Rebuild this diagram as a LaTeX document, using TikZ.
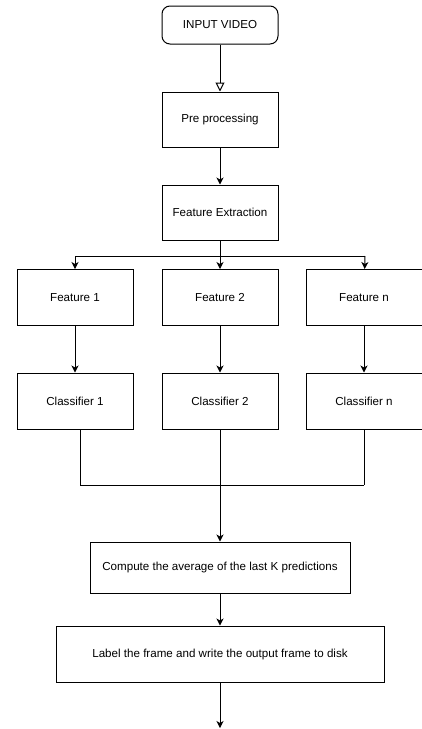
\documentclass[tikz,border=0pt]{standalone}
\usepackage{fontspec}
\setmainfont{Liberation Sans}
\usepackage{tikz}
\usetikzlibrary{shapes}
\usetikzlibrary{arrows.meta}
\pgfdeclarelayer{edgelayer}
\pgfdeclarelayer{nodelayer}
\pgfsetlayers{edgelayer,nodelayer,main}
\tikzstyle{none}=[inner sep=0pt]
\tikzstyle{box}=[rectangle, draw, fill=white, line width=1pt, inner sep=0pt, minimum width=116pt, minimum height=56pt, font=\fontsize{11.6}{14}\selectfont]
\tikzstyle{flow}=[line width=1pt, -{Stealth[length=7pt,width=7pt,inset=2pt]}]
\tikzstyle{openflow}=[line width=1pt, -{Triangle[open,length=9pt,width=9pt]}]
\tikzstyle{plain}=[line width=1pt]

\begin{document}
\begin{tikzpicture}[x=1pt, y=1pt]
    \useasboundingbox (0,0) rectangle (422,-729);
    \begin{pgfonlayer}{nodelayer}
	\node [style=box, rounded corners=8pt, minimum height=38pt] (0) at (220, -25) {INPUT VIDEO};
	\node [style=box, minimum height=55pt] (1) at (220, -119.5) {Pre processing};
	\node [style=box, minimum height=55pt] (2) at (220, -212.5) {Feature Extraction};
	\node [style=box] (3) at (75, -297.5) {Feature 1};
	\node [style=box] (4) at (220, -297.5) {Feature 2};
	\node [style=box] (5) at (364, -297.5) {Feature n};
	\node [style=box] (6) at (75, -401) {Classifier 1};
	\node [style=box] (7) at (220, -401) {Classifier 2};
	\node [style=box] (8) at (364, -401) {Classifier n};
	\node [style=box, minimum width=260pt, minimum height=51pt] (9) at (220, -567.5) {Compute the average of the last K predictions};
	\node [style=box, minimum width=328pt] (10) at (220, -654) {Label the frame and write the output frame to disk};
	\node [style=none] (11) at (220, -256) {};
	\node [style=none] (12) at (75, -256) {};
	\node [style=none] (13) at (365, -256) {};
	\node [style=none] (14) at (80, -429) {};
	\node [style=none] (15) at (80, -485) {};
	\node [style=none] (16) at (364, -485) {};
	\node [style=none] (17) at (220, -485) {};
	\node [style=none] (18) at (220, -728) {};
    \end{pgfonlayer}
    \begin{pgfonlayer}{edgelayer}
	\draw [style=openflow] (0) to (1);
	\draw [style=flow] (1) to (2);
	\draw [style=plain] (2) to (11.center);
	\draw [style=plain] (12.center) to (13.center);
	\draw [style=flow] (12.center) to (3);
	\draw [style=flow] (11.center) to (4);
	\draw [style=flow] (13.center) to (5);
	\draw [style=flow] (3) to (6);
	\draw [style=flow] (4) to (7);
	\draw [style=flow] (5) to (8);
	\draw [style=plain] (14.center) to (15.center);
	\draw [style=plain] (15.center) to (16.center);
	\draw [style=plain] (8) to (16.center);
	\draw [style=flow] (7) to (9);
	\draw [style=flow] (9) to (10);
	\draw [style=flow] (10) to (18.center);
    \end{pgfonlayer}
\end{tikzpicture}
\end{document}
